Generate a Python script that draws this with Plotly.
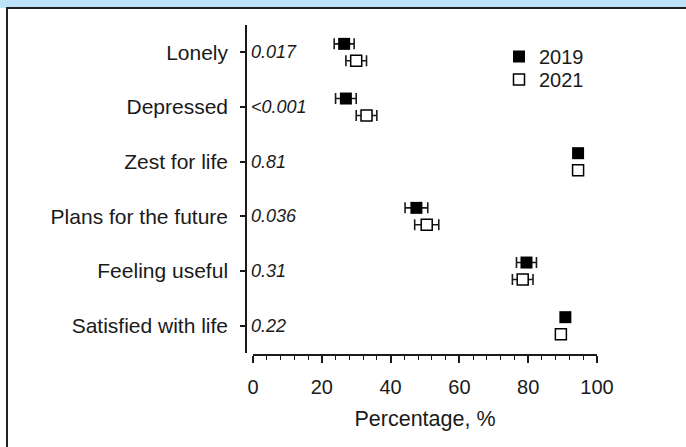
import plotly.graph_objects as go

categories = ["Lonely", "Depressed", "Zest for life", "Plans for the future",
              "Feeling useful", "Satisfied with life"]
p_values = ["0.017", "<0.001", "0.81", "0.036", "0.31", "0.22"]
pct_2019 = [26.5, 27.0, 94.5, 47.5, 79.5, 90.8]
err_2019 = [2.9, 3.0, 1.0, 3.3, 2.9, 1.2]
pct_2021 = [30.0, 33.0, 94.5, 50.5, 78.4, 89.5]
err_2021 = [3.0, 3.0, 1.0, 3.5, 3.0, 1.3]
x_ticks = [0, 20, 40, 60, 80, 100]

n = len(categories)
ypos = [n - 1 - i for i in range(n)]
off = 0.155
FONT = "Liberation Sans, Arial, sans-serif"
INK = "#1a1a1a"

fig = go.Figure()
fig.add_trace(go.Scatter(
    x=pct_2019, y=[v + off for v in ypos], mode="markers", name="2019", legend="legend",
    marker=dict(symbol="square", size=12, color="black", line=dict(width=0)),
    error_x=dict(type="data", array=err_2019, color=INK, thickness=1.6, width=5.5),
))
fig.add_trace(go.Scatter(
    x=pct_2021, y=[v - off for v in ypos], mode="markers", name="2021", legend="legend2",
    marker=dict(symbol="square", size=11, color="white", line=dict(width=1.5, color="black")),
    error_x=dict(type="data", array=err_2021, color=INK, thickness=1.6, width=5.5),
))

L, R, T, B = 246, 89, 25, 92
W, H = 686, 447
pw, ph = W - L - R, H - T - B


def px(xp):
    return (xp - L) / pw


def py(yp):
    return (H - B - yp) / ph


for i, p in enumerate(p_values):
    fig.add_annotation(x=px(249), xref="paper", y=ypos[i], yref="y", text=p,
                       showarrow=False, xanchor="left", yanchor="middle",
                       font=dict(family=FONT, size=18, color=INK, style="italic"))

# header band and frame
fig.add_shape(type="rect", xref="paper", yref="paper", x0=px(-5), x1=px(700),
              y0=py(8), y1=py(-5), fillcolor="#BEE3F8", line=dict(width=0), layer="above")
fig.add_shape(type="rect", xref="paper", yref="paper", x0=px(7), x1=px(700),
              y0=py(460), y1=py(8), fillcolor="rgba(0,0,0,0)", line=dict(width=2, color="#222"),
              layer="above")

leg_common = dict(xanchor="left", yanchor="top", bgcolor="rgba(0,0,0,0)",
                  font=dict(size=20, family=FONT, color=INK), itemwidth=30, tracegroupgap=0)

fig.update_layout(
    width=W, height=H, margin=dict(l=L, r=R, t=T, b=B),
    paper_bgcolor="white", plot_bgcolor="white",
    font=dict(family=FONT, color=INK),
    showlegend=True,
    legend=dict(x=px(499), y=py(37), **leg_common),
    legend2=dict(x=px(499), y=py(60), **leg_common),
    xaxis=dict(domain=[(253 - L) / pw, 1], range=[0, 100], anchor="free", position=0,
               showline=True, linecolor=INK, linewidth=1.5, showgrid=False, zeroline=False,
               tickvals=x_ticks, ticks="outside", ticklen=7, tickwidth=1.5, tickcolor=INK,
               tickfont=dict(size=20, family=FONT, color=INK), ticklabelstandoff=7,
               minor=dict(dtick=4, tick0=0, ticks="outside", ticklen=4, tickwidth=1, tickcolor=INK),
               title=dict(text="Percentage, %", font=dict(size=21.5, family=FONT, color=INK), standoff=13)),
    yaxis=dict(domain=[2 / ph, 1], range=[-0.5, 5.5], anchor="free", position=0,
               showline=True, linecolor=INK, linewidth=1.5, showgrid=False, zeroline=False,
               tickvals=ypos, ticktext=categories, ticks="outside", ticklen=5, tickwidth=1.5,
               tickcolor=INK, tickfont=dict(size=21, family=FONT, color=INK), ticklabelstandoff=8),
)

fig.write_html("out.html", config={"displayModeBar": False},
               post_script="document.body.style.margin='0';document.body.style.padding='0';")
